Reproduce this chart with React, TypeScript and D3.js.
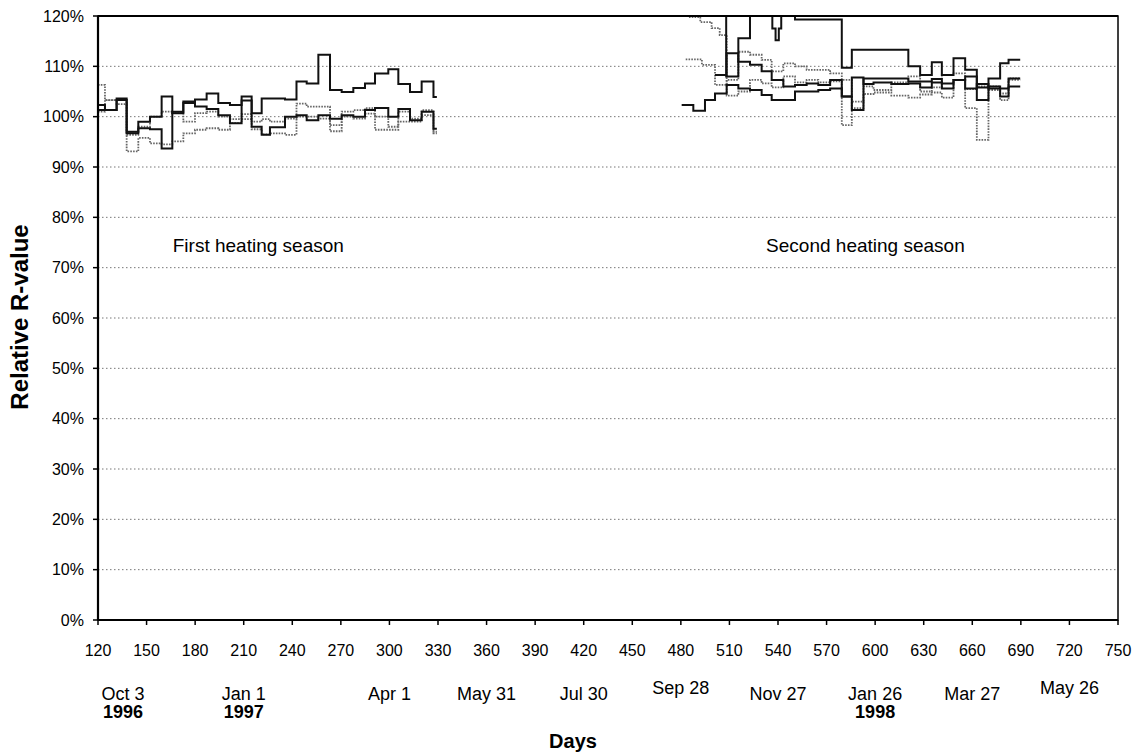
import React from 'react';
import * as d3 from 'd3';

// [day, relative R-value %] step data, two heating seasons
const season1SolidA = [[120,102.3],[124.3,101.3],[131.5,103.6],[137.7,97],[144.9,99],[152.1,100],[159.3,104],[165.9,100.7],[172.7,103],[179.9,103.4],[187.1,104.6],[194.3,102.7],[201.5,102.3],[208.7,104],[214.9,100.7],[221.1,103.6],[235.5,103.4],[242.6,107],[248.9,106.6],[256.1,112.3],[263.3,105.3],[270.5,104.9],[277.7,105.7],[284.9,106.6],[291.1,108.6],[299.3,109.4],[305.5,106.5],[312.7,104.9],[319.9,107],[327.2,103.9],[329.3,103.9]];
const season1SolidB = [[120,101.3],[124.3,101.3],[131.5,103.3],[137.7,96.7],[144.9,97.7],[152.1,97.5],[159.3,93.7],[165.9,101],[172.7,102.7],[179.9,102],[187.1,101.5],[194.3,100.3],[201.5,98.7],[208.7,103.2],[214.9,98],[221.1,96.4],[226.2,97.9],[235.5,100],[242.6,100.3],[248.9,99.3],[256.1,100.3],[263.3,99.6],[270.5,100.3],[277.7,100],[284.9,101.3],[291.1,101.7],[299.3,100],[305.5,101.5],[312.7,99.3],[319.9,101],[327.2,97.6],[329.3,97.6]];
const season1DotA = [[120,101],[124.3,103.3],[131.5,103.3],[137.7,93.1],[144.9,95.8],[152.1,94.7],[159.3,94.5],[165.9,95.1],[172.7,96.7],[179.9,97.4],[187.1,97.7],[194.3,97.4],[201.5,98.7],[208.7,99.5],[214.9,97.5],[221.1,96.5],[226.2,96.7],[235.5,96.4],[242.6,102.6],[248.9,102],[256.1,102],[263.3,97.1],[270.5,101],[277.7,101.3],[284.9,101.7],[291.1,97.4],[299.3,97.4],[305.5,101],[312.7,99.6],[319.9,101.3],[327.2,96.7],[329.3,96.7]];
const season1DotB = [[120,106.3],[124.3,103.3],[131.5,102.5],[137.7,96.4],[144.9,98],[152.1,100],[159.3,101],[165.9,100.7],[172.7,99],[179.9,100.7],[187.1,101],[194.3,100],[201.5,99.5],[208.7,100.5],[214.9,99],[221.1,99.5],[226.2,99],[235.5,99.6],[242.6,100],[248.9,100],[256.1,99.6],[263.3,98.3],[270.5,100],[277.7,99.6],[284.9,100.6],[291.1,100],[299.3,98],[305.5,99],[312.7,99],[319.9,100.3],[327.2,97],[329.3,97]];

const season2SolidA = [[500.6,121],[508,108],[515.5,115.6],[522.7,121],[534.6,121],[536.5,117.5],[538.5,115.2],[540.5,117.5],[542,121],[550.5,119.3],[579.4,109.7],[585.6,113.3],[620.5,110],[627.8,108.3],[635,110.8],[641.2,108.3],[648.4,111.6],[655.6,109.3],[662.8,103.3],[670,107.6],[677.2,110.6],[682.4,111.3],[689.6,111.3]];
const season2SolidB = [[480.5,102.3],[487.7,101.2],[494.9,103.3],[501.1,104.6],[508.3,106.3],[515.5,105.6],[522.7,105.3],[529.9,104.3],[536.1,103.3],[543.3,103.3],[550.5,105],[557.7,105],[564.9,105.3],[572.2,105.6],[579.4,104],[585.6,101.3],[592.8,107.6],[599,107.6],[620.5,107],[627.8,107],[635,107.5],[641.2,105.6],[648.4,107.3],[655.6,105.6],[662.8,106.5],[670,105.6],[677.2,105.6],[682.4,106],[689.6,106]];
const season2SolidC = [[501.1,108.3],[508.3,112.6],[515.5,110.9],[522.7,110.3],[529.9,109],[536.1,107.3],[543.3,106],[550.5,106.3],[557.7,106.6],[564.9,106.3],[572.2,107.3],[579.4,104],[585.6,107.8],[592.8,106.5],[599,106.8],[610,106.5],[620.5,106.6],[627.8,105.8],[635,106.8],[641.2,106.6],[648.4,107.3],[655.6,108],[662.8,105.8],[670,106],[677.2,104],[682.4,107.6],[689.6,107.6]];
const season2DotA = [[483,111.4],[493,110.3],[501.1,106.3],[508.3,107.3],[515.5,112.9],[522.7,112.3],[529.9,111.3],[536.1,109],[543.3,110.6],[550.5,110],[557.7,109.3],[572.2,108.6],[579.4,107.3],[585.6,101.7],[592.8,106],[599,105.3],[610,106.8],[620.5,108],[627.8,105],[635,105.8],[641.2,108.3],[648.4,108.6],[655.6,101.7],[662.8,95.4],[670,106],[677.2,104.6],[682.4,107.6],[689.6,107.6]];
const season2DotB = [[485,119.8],[492,118.8],[499,117.6],[504,116.2],[508.3,104.2],[515.5,105],[522.7,107.3],[529.9,106.6],[536.1,105.8],[543.3,108],[550.5,106.8],[557.7,107.3],[564.9,106.8],[572.2,107],[579.4,98.3],[585.6,103],[592.8,104.5],[599,104.8],[610,104.2],[620.5,103.8],[627.8,104.4],[635,104.8],[641.2,103.8],[648.4,107.3],[655.6,105.5],[662.8,106],[670,105.3],[677.2,103.3],[682.4,107.3],[689.6,107.3]];

const solidSeries = [season1SolidA, season1SolidB, season2SolidA, season2SolidB, season2SolidC];
const dottedSeries = [season1DotA, season1DotB, season2DotA, season2DotB];

const xTicks = d3.range(120, 751, 30);
const yTicks = d3.range(0, 121, 10);

const dateLabels = [
  { day: 120, text: 'Oct 3', year: '1996', raise: false },
  { day: 210, text: 'Jan 1', year: '1997', raise: false },
  { day: 300, text: 'Apr 1', year: '', raise: false },
  { day: 360, text: 'May 31', year: '', raise: false },
  { day: 420, text: 'Jul 30', year: '', raise: false },
  { day: 480, text: 'Sep 28', year: '', raise: true },
  { day: 540, text: 'Nov 27', year: '', raise: false },
  { day: 600, text: 'Jan 26', year: '1998', raise: false },
  { day: 660, text: 'Mar 27', year: '', raise: false },
  { day: 720, text: 'May 26', year: '', raise: true },
];

const annotations = [
  { day: 219, value: 73.2, text: 'First heating season' },
  { day: 594, value: 73.2, text: 'Second heating season' },
];

const W = 1144, H = 753;
const margin = { top: 16, right: 26, bottom: 133, left: 98 };

export default function App() {
  const x = d3.scaleLinear().domain([120, 750]).range([margin.left, W - margin.right]);
  const y = d3.scaleLinear().domain([0, 120]).range([H - margin.bottom, margin.top]);
  const line = d3.line<number[]>().x(d => x(d[0])).y(d => y(d[1])).curve(d3.curveStepAfter);
  const font = '"Liberation Sans", Arial, sans-serif';
  const x0 = x(120), x1 = x(750), y0 = y(0), y1 = y(120);

  return (
    <svg width={W} height={H} style={{ position: 'absolute', left: 0, top: 0, background: '#fff' }} fontFamily={font}>
      <defs>
        <clipPath id="plot">
          <rect x={x0} y={y1} width={x1 - x0} height={y0 - y1} />
        </clipPath>
      </defs>
      {/* grid */}
      {yTicks.filter(t => t > 0 && t < 120).map(t => (
        <line key={t} x1={x0} x2={x1} y1={y(t)} y2={y(t)} stroke="#777" strokeWidth={1} strokeDasharray="1.5,2.5" />
      ))}
      {/* series */}
      <g clipPath="url(#plot)" fill="none">
        {dottedSeries.map((s, i) => (
          <path key={'d' + i} d={line(s) || ''} stroke="#666" strokeWidth={1.8} strokeDasharray="1.6,1.2" />
        ))}
        {solidSeries.map((s, i) => (
          <path key={'s' + i} d={line(s) || ''} stroke="#111" strokeWidth={2} />
        ))}
      </g>
      {/* frame */}
      <rect x={x0} y={y1} width={x1 - x0} height={y0 - y1} fill="none" stroke="#000" strokeWidth={1.5} />
      <line x1={x0} x2={x0} y1={y1} y2={y0} stroke="#000" strokeWidth={2.2} />
      <line x1={x0} x2={x1} y1={y0} y2={y0} stroke="#000" strokeWidth={2.2} />
      <line x1={x0} x2={x1} y1={y1} y2={y1} stroke="#000" strokeWidth={2} />
      {/* y axis */}
      {yTicks.map(t => (
        <g key={t}>
          <line x1={x0 - 5} x2={x0} y1={y(t)} y2={y(t)} stroke="#000" strokeWidth={1.5} />
          <text x={x0 - 14} y={y(t)} dy="0.35em" textAnchor="end" fontSize={16}>{t}%</text>
        </g>
      ))}
      {/* x axis */}
      {xTicks.map(t => (
        <g key={t}>
          <line x1={x(t)} x2={x(t)} y1={y0} y2={y0 + 5} stroke="#000" strokeWidth={1.5} />
          <text x={x(t)} y={y0 + 36} textAnchor="middle" fontSize={16}>{t}</text>
        </g>
      ))}
      {dateLabels.map(d => {
        const cx = d.day === 120 ? x(d.day) + 25 : x(d.day);
        return (
          <g key={d.text}>
            <text x={cx} y={d.raise ? 693.5 : 699.5} textAnchor="middle" fontSize={18}>{d.text}</text>
            {d.year && <text x={cx} y={717.5} textAnchor="middle" fontSize={18} fontWeight="bold">{d.year}</text>}
          </g>
        );
      })}
      <text x={573} y={748} textAnchor="middle" fontSize={20} fontWeight="bold">Days</text>
      <text transform={`translate(28,${(y0 + y1) / 2 - 1}) rotate(-90)`} textAnchor="middle" fontSize={24} fontWeight="bold">Relative R-value</text>
      {annotations.map(a => (
        <text key={a.text} x={x(a.day)} y={y(a.value)} textAnchor="middle" fontSize={19}>{a.text}</text>
      ))}
    </svg>
  );
}
